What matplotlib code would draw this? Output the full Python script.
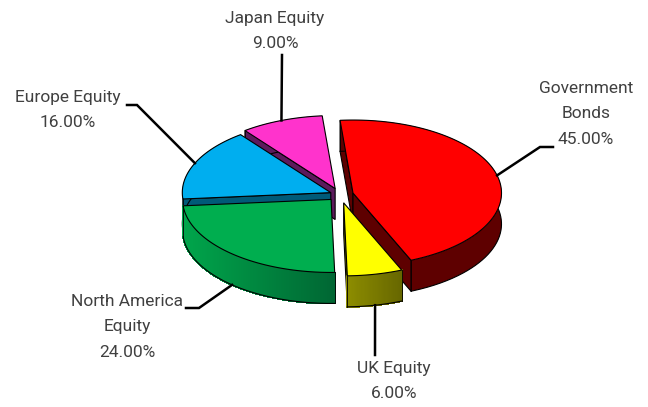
#!/usr/bin/env python3
# exploded 3D-look pie, drawn by hand since matplotlib has no such pie
import numpy as np
import matplotlib; matplotlib.use("Agg")
import matplotlib.pyplot as plt
from matplotlib.colors import to_rgb

names = ["Government\nBonds", "UK Equity", "North America\nEquity", "Europe Equity", "Japan Equity"]
shares = [45.0, 6.0, 24.0, 16.0, 9.0]
top_colors = ["#ff0000", "#ffff00", "#00ae4f", "#00aeef", "#ff33cc"]
wall_left = ["#5e0000", "#8c8c00", "#00a54b", "#005a78", "#5c1a5c"]
wall_right = ["#5e0000", "#666600", "#006633", "#005a78", "#5c1a5c"]
explode = [1.0, 1.3, 1.0, 0.75, 1.0]
draw_order = [4, 3, 2, 0, 1]

# label layout, pixels: text centre and elbow of the leader
label_xy = [(586, 114), (394, 381), (127, 327), (68, 110), (275, 31)]
elbow = [[(540, 147), (553, 147)], [(375, 355)], [(199, 308), (186, 308)],
         [(137, 105), (127, 105)], [(282, 55)]]

CX, CY = 340.0, 194.6
RX, RY = 148.5, 73.0
DEPTH = 31.0
EX, EY = 13.4, 6.5
START = -5.0


def rim(cx, cy, deg):
    t = np.radians(deg)
    return cx + RX * np.sin(t), cy - RY * np.cos(t)


fig = plt.figure(figsize=(6.48, 4.07), dpi=100)
ax = fig.add_axes([0, 0, 1, 1])
ax.set_xlim(0, 648); ax.set_ylim(407, 0); ax.axis("off")

edges = START + np.cumsum([0] + shares) * 3.6
apex = []
for i in range(len(shares)):
    mid = np.radians((edges[i] + edges[i + 1]) / 2)
    apex.append((CX + explode[i] * EX * np.sin(mid), CY - explode[i] * EY * np.cos(mid)))

for order, i in enumerate(draw_order):
    a0, a1 = edges[i], edges[i + 1]
    cx, cy = apex[i]
    dark0, dark1 = np.array(to_rgb(wall_left[i])), np.array(to_rgb(wall_right[i]))
    z = 1 + order * 3
    # cut faces, only those turned towards the viewer
    for a, normal in ((a0, a0 - 90), (a1, a1 + 90)):
        if np.cos(np.radians(normal)) < 0:
            x, y = rim(cx, cy, a)
            ax.fill([cx, x, x, cx], [cy, y, y + DEPTH, cy + DEPTH], fc=dark0, ec="black", lw=0.8, zorder=z)
    # outer wall, thin strips when it carries a gradient
    angs = np.linspace(a0, a1, int(a1 - a0) * 2 + 2)
    xs, ys = rim(cx, cy, angs)
    if wall_left[i] == wall_right[i]:
        ax.fill(np.r_[xs, xs[::-1]], np.r_[ys, ys[::-1] + DEPTH], fc=dark0, ec="none", zorder=z + 1)
    else:
        xmin, xmax = xs.min(), xs.max()
        for j in range(len(angs) - 1):
            f = ((xs[j] + xs[j + 1]) / 2 - xmin) / (xmax - xmin)
            c = dark0 * (1 - f) + dark1 * f
            ax.fill([xs[j], xs[j + 1], xs[j + 1], xs[j]], [ys[j], ys[j + 1], ys[j + 1] + DEPTH, ys[j] + DEPTH],
                    fc=c, ec=c, lw=0.8, antialiased=False, zorder=z + 1)
    ax.plot(xs, ys + DEPTH, color="black", lw=0.8, zorder=z + 1)
    ax.plot([xs[0], xs[0]], [ys[0], ys[0] + DEPTH], color="black", lw=0.6, zorder=z + 1)
    ax.plot([xs[-1], xs[-1]], [ys[-1], ys[-1] + DEPTH], color="black", lw=0.6, zorder=z + 1)
    # top
    ax.fill(np.r_[cx, xs], np.r_[cy, ys], fc=top_colors[i], ec="black", lw=0.8, zorder=z + 2)

for i, name in enumerate(names):
    mid = (edges[i] + edges[i + 1]) / 2
    x0, y0 = rim(*apex[i], mid)
    if np.cos(np.radians(mid)) < 0:
        y0 += DEPTH
    pts = [(x0, y0)] + elbow[i]
    ax.plot([p[0] for p in pts], [p[1] for p in pts], color="black", lw=1.8,
            solid_joinstyle="miter", zorder=30)
    ax.text(label_xy[i][0], label_xy[i][1], "%s\n%.2f%%" % (name, shares[i]), ha="center", va="center",
            family=["Roboto", "DejaVu Sans"], fontsize=12.5, color="#404040", linespacing=1.85, zorder=31)

plt.savefig("out.png", dpi=100)
